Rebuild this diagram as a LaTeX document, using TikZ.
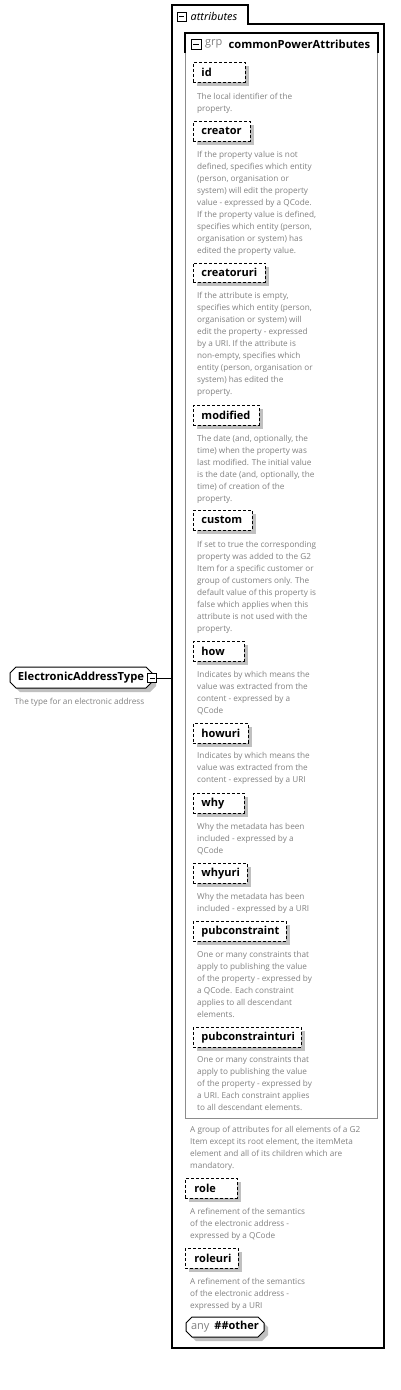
\documentclass[tikz,border=0pt]{standalone}
\usepackage{fontspec}
\setmainfont{Open Sans}
\newfontfamily\tabfont{Noto Sans}
\usetikzlibrary{shapes.misc,shadows}
\definecolor{desc}{RGB}{128,128,128}
\definecolor{shad}{RGB}{192,192,192}
\definecolor{grpline}{RGB}{140,140,140}
\begin{document}
\begin{tikzpicture}[x=1pt,y=-1pt,
  attrbox/.style={draw, dash pattern=on 3pt off 2pt, line width=0.9pt, fill=white,
    anchor=north west, minimum height=19.5pt, inner sep=0pt, align=left,
    font=\fontsize{11}{13}\selectfont\bfseries,
    drop shadow={shadow xshift=4pt, shadow yshift=-4pt, fill=shad, opacity=1}},
  desctext/.style={anchor=north west, inner sep=0pt, align=left, text=desc,
    font=\fontsize{8.2}{12}\selectfont, yshift=-2.8pt},
  expander/.style={draw, fill=white, minimum size=9pt, inner sep=0pt, line width=0.8pt,
    path picture={\draw[line width=0.8pt] ([xshift=2pt]path picture bounding box.west) -- ([xshift=-2pt]path picture bounding box.east);}},
  elem/.style={chamfered rectangle, chamfered rectangle xsep=3pt, chamfered rectangle ysep=3pt,
    draw, line width=1pt, fill=white, inner sep=0pt, anchor=center,
    font=\fontsize{11}{13}\selectfont,
    drop shadow={shadow xshift=4pt, shadow yshift=-4pt, fill=shad, opacity=1}}
]
\useasboundingbox (0,0) rectangle (400,1390);

% attributes container
\draw[line width=1.2pt] (172,1348) -- (172,5) -- (248,5) -- (248,24) -- (384,24) -- (384,1348) -- cycle;
\coordinate (ableft) at (172,678);
\node[expander] (attrexp) at (181.5,16.5) {};
\node[anchor=west, inner sep=0pt, font=\tabfont\fontsize{10.8}{13}\selectfont\itshape] (attrlbl) at (190.5,16) {attributes};

% group container
\node[draw=grpline, line width=1pt, minimum width=192pt, minimum height=1085pt, anchor=north west, inner sep=0pt] (grpbox) at (185,33) {};
\draw[line width=1.1pt] ([yshift=-20pt]grpbox.north west) -- (grpbox.north west) -- (grpbox.north east) -- ([yshift=-20pt]grpbox.north east);
\node[expander, minimum size=10pt] (grpexp) at (196,44) {};
\node[anchor=west, inner sep=0pt, text=desc, font=\fontsize{11}{13}\selectfont] (grplbl) at (205,44) {grp};
\node[anchor=west, inner sep=0pt, font=\fontsize{11.2}{13}\selectfont\bfseries] (grpname) at (228.5,44) {commonPowerAttributes};

% element
\node[elem, minimum width=142pt, minimum height=21pt, font=\fontsize{11.2}{13}\selectfont\bfseries] (eat) at (81,677.5) {ElectronicAddressType\hspace{13pt}};
\node[expander] (eexp) at (152,678) {};
\draw[line width=1pt] (eexp.east) -- (ableft);
\node[desctext] (eatdesc) at (14.5,695.2) {The type for an electronic address};

% attributes
\node[attrbox, text width=52pt] (id) at (193,62) {\hspace*{8pt}id};
\node[desctext] (iddesc) at (197,90.2) {The local identifier of the\\property.};

\node[attrbox, text width=57pt] (creator) at (193,121) {\hspace*{8pt}creator};
\node[desctext] (creatordesc) at (197,148.2) {If the property value is not\\defined, specifies which entity\\(person, organisation or\\system) will edit the property\\value - expressed by a QCode.\\If the property value is defined,\\specifies which entity (person,\\organisation or system) has\\edited the property value.};

\node[attrbox, text width=72pt] (creatoruri) at (193,262.5) {\hspace*{8pt}creatoruri};
\node[desctext] (creatoruridesc) at (197,289.2) {If the attribute is empty,\\specifies which entity (person,\\organisation or system) will\\edit the property - expressed\\by a URI. If the attribute is\\non-empty, specifies which\\entity (person, organisation or\\system) has edited the\\property.};

\node[attrbox, text width=66pt] (modified) at (193,405) {\hspace*{8pt}modified};
\node[desctext] (modifieddesc) at (197,432.2) {The date (and, optionally, the\\time) when the property was\\last modified. The initial value\\is the date (and, optionally, the\\time) of creation of the\\property.};

\node[attrbox, text width=59pt] (custom) at (193,510) {\hspace*{8pt}custom};
\node[desctext] (customdesc) at (197,538.2) {If set to true the corresponding\\property was added to the G2\\Item for a specific customer or\\group of customers only. The\\default value of this property is\\false which applies when this\\attribute is not used with the\\property.};

\node[attrbox, text width=51pt] (how) at (193,641) {\hspace*{8pt}how};
\node[desctext] (howdesc) at (197,668.2) {Indicates by which means the\\value was extracted from the\\content - expressed by a\\QCode};

\node[attrbox, text width=55pt] (howuri) at (193,723) {\hspace*{8pt}howuri};
\node[desctext] (howuridesc) at (197,749.2) {Indicates by which means the\\value was extracted from the\\content - expressed by a URI};

\node[attrbox, text width=51pt] (why) at (193,793) {\hspace*{8pt}why};
\node[desctext] (whydesc) at (197,820.2) {Why the metadata has been\\included - expressed by a\\QCode};

\node[attrbox, text width=54pt] (whyuri) at (193,863) {\hspace*{8pt}whyuri};
\node[desctext] (whyuridesc) at (197,890.2) {Why the metadata has been\\included - expressed by a URI};

\node[attrbox, text width=93pt] (pubconstraint) at (193,921) {\hspace*{8pt}pubconstraint};
\node[desctext] (pubconstraintdesc) at (197,948.2) {One or many constraints that\\apply to publishing the value\\of the property - expressed by\\a QCode. Each constraint\\applies to all descendant\\elements.};

\node[attrbox, text width=108pt] (pubconstrainturi) at (193,1027) {\hspace*{8pt}pubconstrainturi};
\node[desctext] (pubconstrainturidesc) at (197,1053.2) {One or many constraints that\\apply to publishing the value\\of the property - expressed by\\a URI. Each constraint applies\\to all descendant elements.};

% below group
\node[desctext] (grpdesc) at (190,1123.2) {A group of attributes for all elements of a G2\\Item except its root element, the itemMeta\\element and all of its children which are\\mandatory.};

\node[attrbox, text width=52pt] (role) at (185,1178) {\hspace*{9pt}role};
\node[desctext] (roledesc) at (190,1205.2) {A refinement of the semantics\\of the electronic address -\\expressed by a QCode};

\node[attrbox, text width=53pt] (roleuri) at (185,1248) {\hspace*{9pt}roleuri};
\node[desctext] (roleuridesc) at (190,1275.2) {A refinement of the semantics\\of the electronic address -\\expressed by a URI};

\node[elem, minimum width=78pt, minimum height=20pt] (anyother) at (225,1327) {\textcolor{desc}{any}\hspace{5pt}\textbf{\#\#other}};
\end{tikzpicture}
\end{document}
